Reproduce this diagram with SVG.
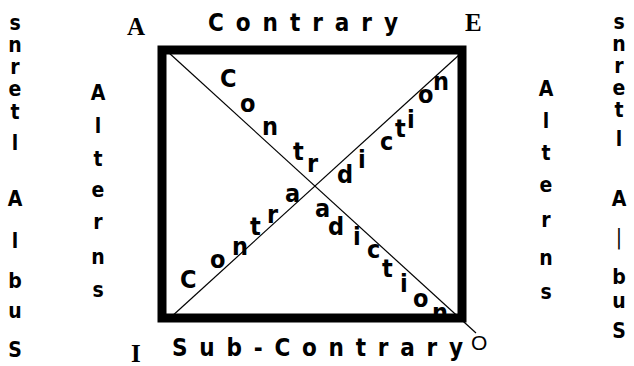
<svg xmlns="http://www.w3.org/2000/svg" width="634" height="366" viewBox="0 0 634 366">
<style>
text{font-family:"Liberation Sans Narrow","DejaVu Sans Condensed","Liberation Sans",sans-serif;font-weight:bold;fill:#000}
.b{font-size:24px}
.v{font-size:21px;text-anchor:middle}
.c{font-family:"Liberation Serif","Times New Roman",serif;font-size:25px}
.d{font-size:25px}
.ln{stroke:#000;stroke-width:1.2;fill:none}
</style>
<rect width="634" height="366" fill="#fff"/>
<g id="diagonal-labels">
<text class="d" x="220" y="87">C</text>
<text class="d" x="240" y="112">o</text>
<text class="d" x="262" y="135">n</text>
<text class="d" x="293" y="160">t</text>
<text class="d" x="307" y="172">r</text>
<text class="d" x="315" y="217">a</text>
<text class="d" x="328" y="235">d</text>
<text class="d" x="353" y="245">i</text>
<text class="d" x="367" y="258">c</text>
<text class="d" x="382" y="277">t</text>
<text class="d" x="400" y="292">i</text>
<text class="d" x="413" y="307">o</text>
<text class="d" x="432" y="321">n</text>
<text class="d" x="180" y="288">C</text>
<text class="d" x="210" y="268">o</text>
<text class="d" x="232" y="255">n</text>
<text class="d" x="250" y="235">t</text>
<text class="d" x="267" y="223">r</text>
<text class="d" x="285" y="202">a</text>
<text class="d" x="337" y="183">d</text>
<text class="d" x="358" y="168">i</text>
<text class="d" x="380" y="150">c</text>
<text class="d" x="395" y="137">t</text>
<text class="d" x="407" y="128">i</text>
<text class="d" x="418" y="103">o</text>
<text class="d" x="433" y="90">n</text>
</g>
<g id="connectors">
<line class="ln" x1="168" y1="52" x2="476" y2="333"/>
<line class="ln" x1="170" y1="318" x2="459" y2="55"/>
</g>
<g id="square">
<rect x="162" y="50" width="300" height="268" fill="none" stroke="#000" stroke-width="9"/>
</g>
<g id="corner-A"><text class="c" x="127" y="35">A</text></g>
<g id="corner-E"><text class="c" x="465" y="31" font-weight="normal">E</text></g>
<g id="corner-I"><text class="c" x="131" y="362">I</text></g>
<g id="corner-O"><text x="471" y="350" style="font-family:'Liberation Sans',sans-serif;font-weight:normal;font-size:21px">O</text></g>
<g id="label-contrary"><text class="b" x="208" y="31" textLength="190" lengthAdjust="spacing">Contrary</text></g>
<g id="label-subcontrary"><text class="b" x="172" y="356" textLength="291" lengthAdjust="spacing">Sub-Contrary</text></g>
<g id="label-alterns-left">
<text class="v" x="98" y="100">A</text>
<text class="v" x="98" y="133">l</text>
<text class="v" x="98" y="166">t</text>
<text class="v" x="98" y="197">e</text>
<text class="v" x="98" y="229">r</text>
<text class="v" x="98" y="264">n</text>
<text class="v" x="98" y="297">s</text>
</g>
<g id="label-alterns-right">
<text class="v" x="546" y="96">A</text>
<text class="v" x="546" y="128">l</text>
<text class="v" x="546" y="160">t</text>
<text class="v" x="546" y="192">e</text>
<text class="v" x="546" y="227">r</text>
<text class="v" x="546" y="265">n</text>
<text class="v" x="546" y="299">s</text>
</g>
<g id="label-subalterns-left">
<text class="v" x="15" y="30">s</text>
<text class="v" x="15" y="52">n</text>
<text class="v" x="15" y="74">r</text>
<text class="v" x="15" y="96">e</text>
<text class="v" x="15" y="119">t</text>
<text class="v" x="15" y="150">l</text>
<text class="v" x="15" y="206">A</text>
<text class="v" x="15" y="248">l</text>
<text class="v" x="15" y="288">b</text>
<text class="v" x="15" y="318">u</text>
<text class="v" x="15" y="357">S</text>
</g>
<g id="label-subalterns-right">
<text class="v" x="619" y="29">s</text>
<text class="v" x="619" y="51">n</text>
<text class="v" x="619" y="73">r</text>
<text class="v" x="619" y="95">e</text>
<text class="v" x="619" y="117">t</text>
<text class="v" x="619" y="146">l</text>
<text class="v" x="619" y="206">A</text>
<text class="v" x="619" y="244" style="font-weight:normal">|</text>
<text class="v" x="619" y="284">b</text>
<text class="v" x="619" y="308">u</text>
<text class="v" x="619" y="338">S</text>
</g>
</svg>
